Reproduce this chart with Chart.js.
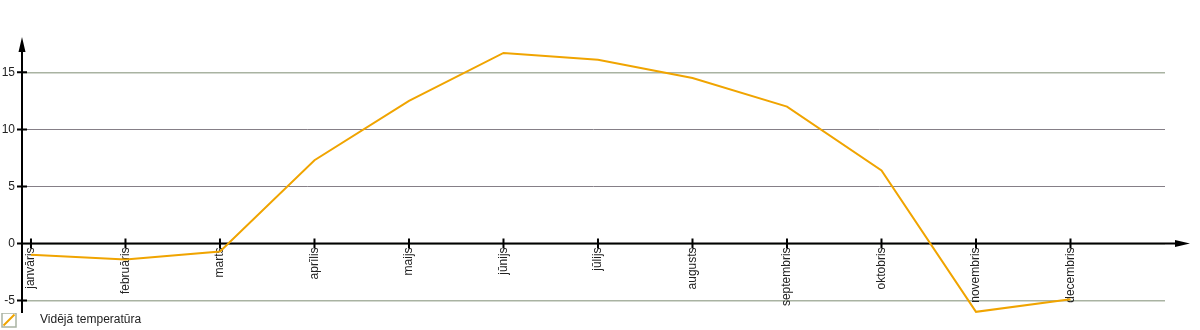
<!DOCTYPE html>
<html>
<head>
<meta charset="utf-8">
<script src="https://cdn.jsdelivr.net/npm/chart.js@4/dist/chart.umd.min.js"></script>
<style>
  html, body { margin: 0; padding: 0; background: #fff; }
  #wrap { width: 1200px; height: 330px; position: relative; }
</style>
</head>
<body>
<div id="wrap"><canvas id="chart"></canvas></div>
<script>
var months = [ "janvāris", "februāris", "marts", "aprīlis", "maijs", "jūnijs",
               "jūlijs", "augusts", "septembris", "oktobris", "novembris", "decembris" ];
var temps = [ -1.0, -1.4, -0.7, 7.3, 12.5, 16.7, 16.1, 14.5, 12.0, 6.4, -6.0, -4.9 ];
var yTicks = [ -5, 0, 5, 10, 15 ];
var seriesLabel = "Vidējā temperatūra";

var lineColor = "#f0a400";
var gridGreen = "#a9b3a2";
var gridMauve = "#857f87";
var textColor = "#222";

// legend icon: small box with a diagonal line, text pushed to the right
var legendIcon = document.createElement('canvas');
legendIcon.width = 33;
legendIcon.height = 16;
(function () {
  var c = legendIcon.getContext('2d');
  c.strokeStyle = gridGreen;
  c.lineWidth = 1.5;
  c.strokeRect(1, 1, 14, 14);
  c.strokeStyle = lineColor;
  c.lineWidth = 2;
  c.beginPath();
  c.moveTo(2.5, 13.5);
  c.lineTo(13.5, 2.5);
  c.stroke();
})();

// black axes with arrows and tick marks, drawn under the data line
var arrowAxes = {
  id: 'arrowAxes',
  beforeDatasetsDraw: (chart) => {
    var ctx = chart.ctx;
    var area = chart.chartArea;
    var xs = chart.scales.x, ys = chart.scales.y;
    var x0 = area.left, y0 = ys.getPixelForValue(0);
    ctx.save();
    ctx.strokeStyle = '#000';
    ctx.fillStyle = '#000';
    ctx.lineWidth = 2;
    ctx.beginPath();
    ctx.moveTo(x0, area.bottom);
    ctx.lineTo(x0, area.top + 10);
    ctx.moveTo(x0, y0);
    ctx.lineTo(area.right + 15, y0);
    yTicks.forEach((v) => {
      var y = ys.getPixelForValue(v);
      ctx.moveTo(x0 - 5, y);
      ctx.lineTo(x0 + 5, y);
    });
    months.forEach((m, i) => {
      var x = xs.getPixelForValue(i);
      ctx.moveTo(x, y0 - 5);
      ctx.lineTo(x, y0 + 5);
    });
    ctx.stroke();
    // arrow heads
    ctx.beginPath();
    ctx.moveTo(x0, area.top);
    ctx.lineTo(x0 - 3.5, area.top + 15);
    ctx.lineTo(x0 + 3.5, area.top + 15);
    ctx.closePath();
    ctx.moveTo(area.right + 25, y0);
    ctx.lineTo(area.right + 10, y0 - 3.5);
    ctx.lineTo(area.right + 10, y0 + 3.5);
    ctx.closePath();
    ctx.fill();
    ctx.restore();
  }
};

new Chart(document.getElementById('chart'), {
  type: 'line',
  data: {
    datasets: [{
      label: seriesLabel,
      data: months.map((m, i) => ({ x: i, y: temps[i] })),
      borderColor: lineColor,
      backgroundColor: lineColor,
      borderWidth: 2,
      pointRadius: 0,
      tension: 0,
      fill: false
    }]
  },
  options: {
    responsive: true,
    maintainAspectRatio: false,
    animation: false,
    layout: {
      padding: { top: 37, right: 35, left: 0, bottom: -6 }
    },
    plugins: {
      tooltip: { enabled: false },
      legend: {
        position: 'bottom',
        align: 'start',
        labels: {
          usePointStyle: true,
          pointStyle: legendIcon,
          pointStyleWidth: 33,
          padding: 1,
          color: textColor,
          font: { family: 'Liberation Sans', size: 12 }
        }
      }
    },
    scales: {
      x: {
        type: 'linear',
        position: { y: 0 },
        min: -0.095,
        max: 12,
        afterBuildTicks: (scale) => {
          scale.ticks = months.map((m, i) => ({ value: i }));
        },
        grid: { display: false, drawTicks: false },
        border: { display: false },
        ticks: {
          autoSkip: false,
          minRotation: 90,
          maxRotation: 90,
          padding: 4,
          color: textColor,
          font: { family: 'Liberation Sans', size: 12 },
          callback: (value) => months[value]
        }
      },
      y: {
        type: 'linear',
        position: 'left',
        min: -6.1,
        max: 18.1,
        afterFit: (scale) => { scale.width = 22; },
        afterBuildTicks: (scale) => {
          scale.ticks = yTicks.map((v) => ({ value: v }));
        },
        grid: {
          drawTicks: false,
          color: (c) => {
            var v = c.tick && c.tick.value;
            return (v === 5 || v === 10) ? gridMauve : gridGreen;
          },
          lineWidth: (c) => {
            var v = c.tick && c.tick.value;
            return (v === 5 || v === 10) ? 1 : 1.5;
          }
        },
        border: { display: false },
        ticks: {
          padding: 7,
          color: textColor,
          font: { family: 'Liberation Sans', size: 12 }
        }
      }
    }
  },
  plugins: [arrowAxes]
});
</script>
</body>
</html>
